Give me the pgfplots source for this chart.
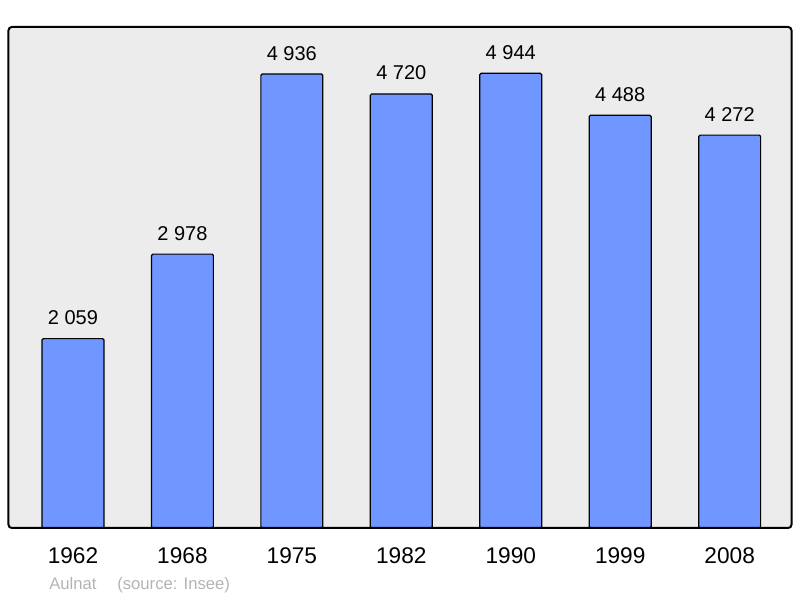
\documentclass[border=0pt]{standalone}
\usepackage{pgfplots}
\pgfplotsset{compat=1.18}
\usepackage{fontspec}
\setmainfont{Liberation Sans}
\definecolor{barblue}{HTML}{7096FF}
\definecolor{panel}{HTML}{ECECEC}
\definecolor{srcgray}{HTML}{B4B4B4}
\begin{document}
\begin{tikzpicture}
\useasboundingbox (-6.375pt,-52.5pt) rectangle (593.625pt,396pt);
\begin{axis}[
  at={(0,0)}, anchor=south west,
  scale only axis, width=587.25pt, height=375.75pt,
  xmin=-0.589, xmax=6.565, ymin=0, ymax=5448,
  clip=false,
  axis line style={draw=none},
  axis background/.style={fill=panel, rounded corners=2.5pt},
  ytick=\empty,
  xtick={0,...,6},
  xticklabels={1962,1968,1975,1982,1990,1999,2008},
  major tick length=0pt,
  xticklabel style={anchor=base, yshift=-27pt, font=\fontsize{17}{20}\selectfont},
  ybar, bar width=0.566,
  point meta=explicit symbolic,
  nodes near coords={\pgfplotspointmeta},
  nodes near coords style={anchor=base, yshift=10.5pt, font=\fontsize{15}{18}\selectfont, text=black},
]
\addplot[fill=barblue, draw=black, line width=0.9pt, rounded corners=1pt]
  coordinates {(0,2059) [2 059] (1,2978) [2 978] (2,4936) [4 936] (3,4720) [4 720]
               (4,4944) [4 944] (5,4488) [4 488] (6,4272) [4 272]};
\draw[line width=1.5pt, rounded corners=2.5pt] (rel axis cs:0,0) rectangle (rel axis cs:1,1);
\end{axis}
\node[anchor=base west, text=srcgray, font=\fontsize{12.5}{15}\selectfont, inner sep=0pt] at (30.4pt,-46.5pt) {Aulnat};
\node[anchor=base west, text=srcgray, font=\fontsize{12.5}{15}\selectfont, inner sep=0pt] at (81.4pt,-46.5pt) {(source: Insee)};
\end{tikzpicture}
\end{document}
